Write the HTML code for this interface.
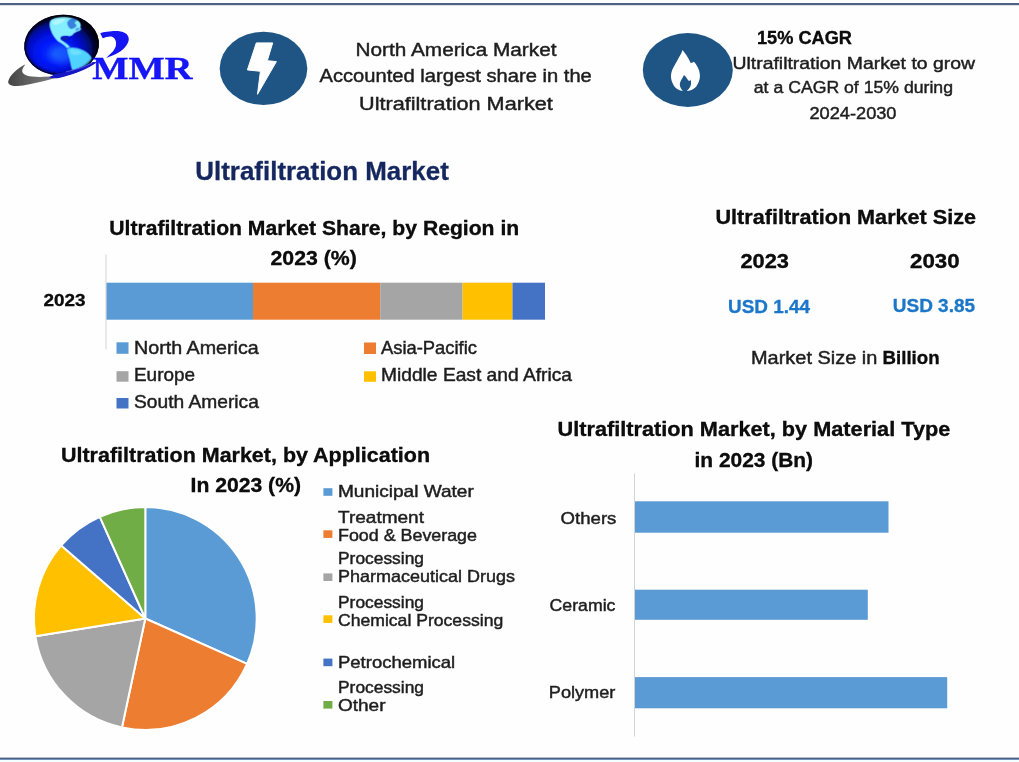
<!DOCTYPE html>
<html><head><meta charset="utf-8"><title>Ultrafiltration Market</title>
<style>html,body{margin:0;padding:0;background:#fefefe;}svg{display:block}text{white-space:pre}</style></head>
<body><svg width="1019" height="762" viewBox="0 0 1019 762">
<rect width="1019" height="762" fill="#fefefe"/>
<rect x="0" y="3" width="1019" height="2.2" fill="#4d6385"/>
<rect x="0" y="757.6" width="1019" height="1.4" fill="#4d6080"/>
<rect x="0" y="759" width="1019" height="1" fill="#7594bd"/>
<rect x="0" y="760" width="1019" height="2" fill="#f3ffff"/>
<defs>
<radialGradient id="gl" cx="0.42" cy="0.58" r="0.56" fx="0.38" fy="0.63">
<stop offset="0" stop-color="#0c3cff"/><stop offset="0.35" stop-color="#0418fa"/><stop offset="0.58" stop-color="#0510d8"/><stop offset="0.75" stop-color="#040c9c"/><stop offset="0.9" stop-color="#020540"/><stop offset="1" stop-color="#00000c"/>
</radialGradient>
<linearGradient id="sw" gradientUnits="userSpaceOnUse" x1="8" y1="0" x2="97" y2="0"><stop offset="0" stop-color="#454545"/><stop offset="0.35" stop-color="#6e6e6e"/><stop offset="0.55" stop-color="#76768a"/><stop offset="0.65" stop-color="#3030b0"/><stop offset="1" stop-color="#1212c8"/></linearGradient>
<filter id="b1" x="-20%" y="-20%" width="140%" height="140%"><feGaussianBlur stdDeviation="7"/></filter>
<filter id="b3" x="-50%" y="-50%" width="200%" height="200%"><feGaussianBlur stdDeviation="30"/></filter>
<filter id="b4" x="-20%" y="-20%" width="140%" height="140%"><feGaussianBlur stdDeviation="1.1"/></filter>
<filter id="tb" x="-5%" y="-30%" width="110%" height="160%"><feGaussianBlur stdDeviation="0.32"/></filter>
<filter id="b2" x="-20%" y="-20%" width="140%" height="140%"><feGaussianBlur stdDeviation="0.55"/></filter>
<clipPath id="gc"><ellipse cx="61.6" cy="45" rx="37.5" ry="30.2" transform="rotate(-6 61.6 45)"/></clipPath>
</defs>
<path d="M25.5,64.2 C18,67.5 10,75 8.3,81 C7.5,85 12,86.6 20,85.8 C28,85 40,82.2 57,77.5 C70,73.8 84,69.6 96.5,62.5 C86,67 72,72.5 59,75.2 C50,76.8 40,77.3 32,76.6 C25,76 21.5,73 22.3,70 C22.8,68 24,66 25.5,64.2 Z" fill="url(#sw)" filter="url(#b2)"/>
<g filter="url(#b2)"><ellipse cx="61.6" cy="45" rx="37.5" ry="30.2" transform="rotate(-6 61.6 45)" fill="url(#gl)"/>
<g clip-path="url(#gc)"><g transform="translate(15 8) scale(0.10497)"><ellipse cx="450" cy="440" rx="110" ry="90" fill="#2a90ff" opacity="0.45" filter="url(#b3)"/><g filter="url(#b1)"><path d="M335,125 C350,100 400,88 450,84 C500,80 560,92 600,118 C625,135 632,160 622,185 C640,195 625,215 600,222 C580,232 560,240 548,258 C538,272 528,262 520,270 C505,262 470,262 445,272 C432,285 440,305 462,318 C480,330 505,345 525,372 L495,382 C470,352 440,335 410,318 C380,292 352,250 338,205 C328,170 325,145 335,125 Z" fill="#84edff"/><path d="M350,130 C380,105 440,95 480,100 C470,130 440,150 400,160 C375,165 355,155 350,130 Z" fill="#b8f8ff" opacity="0.8"/><path d="M498,135 C510,112 535,98 560,92 C575,96 590,104 600,114 C585,120 572,130 566,146 C580,150 590,165 580,180 C562,186 548,202 530,198 C512,188 495,158 498,135 Z" fill="#1a58d0" opacity="0.72"/><path d="M575,200 C590,190 610,185 622,190 C612,205 595,215 580,218 Z" fill="#2a70e0" opacity="0.6"/><ellipse cx="474" cy="290" rx="40" ry="19" fill="#0a1cb0"/><path d="M497,385 C530,368 590,375 640,398 C685,418 722,448 732,480 C725,515 690,550 645,578 C612,596 570,602 545,590 C532,560 528,520 518,482 C508,448 494,415 497,385 Z" fill="#4fd2ff"/><path d="M520,400 C560,388 610,400 640,425 C620,450 570,455 535,440 Z" fill="#7ae6ff" opacity="0.7"/></g></g><ellipse cx="61.6" cy="45" rx="37.5" ry="30.2" transform="rotate(-6 61.6 45)" fill="none" stroke="#00000f" stroke-width="3.2" filter="url(#b4)"/></g></g>
<path d="M56,73.6 C66,72.4 80,68.4 92.7,62 L96.8,62.2 C89,68.2 75,74.2 59,77.9 C56,78.4 52,78.2 49,77.6 Z" fill="#1414c4" filter="url(#b2)"/>
<path d="M66,71.8 C76,69.8 85,66.6 92.5,62.8" stroke="#8f9aff" stroke-width="0.7" fill="none" opacity="0.7" filter="url(#b2)"/>
<path d="M100.3,33.2 C104,32 112,30.8 119.2,31.2 C123,31.5 126.5,33 128,36 C129.5,39 128.5,42.5 126.8,44.7 C125,48 122,50.5 119,52.3 C115,54.8 110,56.8 106.2,57.9 C109,55.5 111.5,53 112.7,51.8 C114.5,49.5 115.8,47 115.9,45.3 C116.2,43 116,41.5 115.4,40 C114.6,38.3 113,37 111.5,36.5 C108.5,36 105,37.2 102.7,38.3 Z" fill="#1212f2" filter="url(#b2)"/>
<text x="92.2" y="79.0" font-family='"Liberation Serif", serif' font-size="32.4" font-weight="bold" fill="#1212f6" textLength="100.2" lengthAdjust="spacingAndGlyphs" stroke="#1212f6" stroke-width="0.4" filter="url(#b2)">MMR</text>
<ellipse cx="263.5" cy="68.4" rx="43.8" ry="36.6" fill="#1f5585"/>
<path d="M256.3,42.9 L272.7,42.9 L267.3,60.7 L276.4,61.6 L257.5,94.3 L260.4,71.3 L247.4,69.9 Z" fill="#fff" stroke="#fff" stroke-width="1" stroke-linejoin="round"/>
<text x="355.5" y="55.9" font-family='"Liberation Sans", sans-serif' font-size="18.8" font-weight="normal" fill="#1e1e1e" textLength="201.0" lengthAdjust="spacingAndGlyphs" filter="url(#tb)" stroke="#1e1e1e" stroke-width="0.45">North America Market</text>
<text x="319.5" y="82.4" font-family='"Liberation Sans", sans-serif' font-size="18.8" font-weight="normal" fill="#1e1e1e" textLength="272.3" lengthAdjust="spacingAndGlyphs" filter="url(#tb)" stroke="#1e1e1e" stroke-width="0.45">Accounted largest share in the</text>
<text x="359.0" y="109.8" font-family='"Liberation Sans", sans-serif' font-size="18.8" font-weight="normal" fill="#1e1e1e" textLength="193.8" lengthAdjust="spacingAndGlyphs" filter="url(#tb)" stroke="#1e1e1e" stroke-width="0.45">Ultrafiltration Market</text>
<ellipse cx="687.8" cy="70" rx="45" ry="36.9" fill="#1f5585"/>
<path d="M682.5,49.9 C684.2,51.8 685.6,53.8 686.8,55.8 C688.4,58.3 689.7,60.6 690.7,62.9 C691.9,62.8 693.1,62.5 693.9,61.7 C695.6,63.4 696.8,65.4 697.8,67.6 C698.9,69.6 699.6,71.7 699.8,73.9 C700.1,76.4 699.8,78.8 699,81 C698.3,83.4 697.1,85.5 695.5,87.3 C694,88.8 692.1,89.9 689.9,90.5 C688.4,91 686.8,91.2 685.2,91.2 C682.6,91.2 680.2,90.7 678.1,89.6 C675.8,88.3 674.1,86.4 673,84.1 C671.6,81.5 670.9,78.6 671,75.5 C671.2,72.7 672.1,70 673.4,67.6 C674.8,64.7 676.6,61.8 678.1,58.9 C679.7,56 681.5,53.2 682.5,49.9 Z" fill="#fff"/>
<path d="M684,75.1 C685.4,76.4 686.6,77.8 687.6,79.4 C688.1,80 688.7,80.6 689.3,81 C689.8,80.6 690.1,80 690.3,79.4 C690.9,80.6 691.2,81.9 691.1,83.3 C691.1,84.8 690.7,86.1 689.9,87.3 C689.2,88.5 688.3,89.6 687.2,90.4 L687.2,92.5 L682.5,92.5 L682.5,90.4 C681.3,89.3 680.5,88 680.1,86.5 C679.7,85.2 679.7,83.9 680.1,82.6 C680.5,81.1 681.2,79.8 682.1,78.6 C682.8,77.5 683.5,76.4 684,75.1 Z" fill="#1f5585"/>
<text x="757.0" y="43.9" font-family='"Liberation Sans", sans-serif' font-size="17.8" font-weight="bold" fill="#080808" textLength="95.0" lengthAdjust="spacingAndGlyphs" filter="url(#tb)" stroke="#080808" stroke-width="0.3">15% CAGR</text>
<text x="732.5" y="69.4" font-family='"Liberation Sans", sans-serif' font-size="17.2" font-weight="normal" fill="#1e1e1e" textLength="242.5" lengthAdjust="spacingAndGlyphs" filter="url(#tb)" stroke="#1e1e1e" stroke-width="0.45">Ultrafiltration Market to grow</text>
<text x="753.8" y="93.3" font-family='"Liberation Sans", sans-serif' font-size="17.2" font-weight="normal" fill="#1e1e1e" textLength="199.2" lengthAdjust="spacingAndGlyphs" filter="url(#tb)" stroke="#1e1e1e" stroke-width="0.45">at a CAGR of 15% during</text>
<text x="809.5" y="119.4" font-family='"Liberation Sans", sans-serif' font-size="17.2" font-weight="normal" fill="#1e1e1e" textLength="87.0" lengthAdjust="spacingAndGlyphs" filter="url(#tb)" stroke="#1e1e1e" stroke-width="0.45">2024-2030</text>
<text x="195.3" y="179.8" font-family='"Liberation Sans", sans-serif' font-size="25.4" font-weight="bold" fill="#14275f" textLength="253.5" lengthAdjust="spacingAndGlyphs" filter="url(#tb)" stroke="#14275f" stroke-width="0.3">Ultrafiltration Market</text>
<text x="109.3" y="235.4" font-family='"Liberation Sans", sans-serif' font-size="20.2" font-weight="bold" fill="#080808" textLength="409.9" lengthAdjust="spacingAndGlyphs" filter="url(#tb)" stroke="#080808" stroke-width="0.3">Ultrafiltration Market Share, by Region in</text>
<text x="270.5" y="265.3" font-family='"Liberation Sans", sans-serif' font-size="20.2" font-weight="bold" fill="#080808" textLength="86.3" lengthAdjust="spacingAndGlyphs" filter="url(#tb)" stroke="#080808" stroke-width="0.3">2023 (%)</text>
<rect x="105.5" y="254.5" width="1" height="95" fill="#d4d4d4"/>
<rect x="106.5" y="282.7" width="146.5" height="37" fill="#5b9bd5"/>
<rect x="253" y="282.7" width="127.2" height="37" fill="#ed7d31"/>
<rect x="380.2" y="282.7" width="82.4" height="37" fill="#a5a5a5"/>
<rect x="462.6" y="282.7" width="49.9" height="37" fill="#ffc000"/>
<rect x="512.5" y="282.7" width="32.5" height="37" fill="#4472c4"/>
<text x="43.5" y="306.1" font-family='"Liberation Sans", sans-serif' font-size="17.2" font-weight="bold" fill="#080808" textLength="42.1" lengthAdjust="spacingAndGlyphs" filter="url(#tb)" stroke="#080808" stroke-width="0.3">2023</text>
<rect x="116.5" y="342.3" width="12" height="11.5" fill="#5b9bd5"/>
<text x="134.0" y="353.7" font-family='"Liberation Sans", sans-serif' font-size="18.2" font-weight="normal" fill="#1e1e1e" textLength="124.8" lengthAdjust="spacingAndGlyphs" filter="url(#tb)" stroke="#1e1e1e" stroke-width="0.45">North America</text>
<rect x="116.5" y="371.2" width="12" height="10.5" fill="#a5a5a5"/>
<text x="134.0" y="380.8" font-family='"Liberation Sans", sans-serif' font-size="18.2" font-weight="normal" fill="#1e1e1e" textLength="61.0" lengthAdjust="spacingAndGlyphs" filter="url(#tb)" stroke="#1e1e1e" stroke-width="0.45">Europe</text>
<rect x="116.5" y="398" width="12" height="10.5" fill="#4472c4"/>
<text x="134.0" y="408.0" font-family='"Liberation Sans", sans-serif' font-size="18.2" font-weight="normal" fill="#1e1e1e" textLength="124.8" lengthAdjust="spacingAndGlyphs" filter="url(#tb)" stroke="#1e1e1e" stroke-width="0.45">South America</text>
<rect x="364" y="342.5" width="12" height="11.5" fill="#ed7d31"/>
<text x="381.0" y="353.9" font-family='"Liberation Sans", sans-serif' font-size="18.2" font-weight="normal" fill="#1e1e1e" textLength="96.0" lengthAdjust="spacingAndGlyphs" filter="url(#tb)" stroke="#1e1e1e" stroke-width="0.45">Asia-Pacific</text>
<rect x="364" y="371.3" width="12" height="10.5" fill="#ffc000"/>
<text x="381.0" y="381.2" font-family='"Liberation Sans", sans-serif' font-size="18.2" font-weight="normal" fill="#1e1e1e" textLength="191.0" lengthAdjust="spacingAndGlyphs" filter="url(#tb)" stroke="#1e1e1e" stroke-width="0.45">Middle East and Africa</text>
<text x="715.5" y="223.5" font-family='"Liberation Sans", sans-serif' font-size="20.2" font-weight="bold" fill="#080808" textLength="260.5" lengthAdjust="spacingAndGlyphs" filter="url(#tb)" stroke="#080808" stroke-width="0.3">Ultrafiltration Market Size</text>
<text x="740.5" y="268.3" font-family='"Liberation Sans", sans-serif' font-size="20.2" font-weight="bold" fill="#080808" textLength="48.5" lengthAdjust="spacingAndGlyphs" filter="url(#tb)" stroke="#080808" stroke-width="0.3">2023</text>
<text x="910.0" y="268.3" font-family='"Liberation Sans", sans-serif' font-size="20.2" font-weight="bold" fill="#080808" textLength="49.6" lengthAdjust="spacingAndGlyphs" filter="url(#tb)" stroke="#080808" stroke-width="0.3">2030</text>
<text x="728.0" y="313.3" font-family='"Liberation Sans", sans-serif' font-size="17.8" font-weight="bold" fill="#1b77c9" textLength="82.0" lengthAdjust="spacingAndGlyphs" filter="url(#tb)" stroke="#1b77c9" stroke-width="0.3">USD 1.44</text>
<text x="892.8" y="311.9" font-family='"Liberation Sans", sans-serif' font-size="17.8" font-weight="bold" fill="#1b77c9" textLength="82.2" lengthAdjust="spacingAndGlyphs" filter="url(#tb)" stroke="#1b77c9" stroke-width="0.3">USD 3.85</text>
<text x="751.0" y="363.6" font-family='"Liberation Sans", sans-serif' font-size="18.2" font-weight="normal" fill="#1e1e1e" textLength="126.3" lengthAdjust="spacingAndGlyphs" filter="url(#tb)" stroke="#1e1e1e" stroke-width="0.45">Market Size in</text>
<text x="882.6" y="363.6" font-family='"Liberation Sans", sans-serif' font-size="18.2" font-weight="bold" fill="#080808" textLength="57.0" lengthAdjust="spacingAndGlyphs" filter="url(#tb)" stroke="#080808" stroke-width="0.3">Billion</text>
<text x="61.0" y="461.5" font-family='"Liberation Sans", sans-serif' font-size="20.2" font-weight="bold" fill="#080808" textLength="369.0" lengthAdjust="spacingAndGlyphs" filter="url(#tb)" stroke="#080808" stroke-width="0.3">Ultrafiltration Market, by Application</text>
<text x="190.5" y="492.1" font-family='"Liberation Sans", sans-serif' font-size="20.2" font-weight="bold" fill="#080808" textLength="110.5" lengthAdjust="spacingAndGlyphs" filter="url(#tb)" stroke="#080808" stroke-width="0.3">In 2023 (%)</text>
<path d="M145.3,618.5 L145.30,507.10 A111.4,111.4 0 0 1 247.07,663.81 Z" fill="#5b9bd5" stroke="#fff" stroke-width="2" stroke-linejoin="round"/>
<path d="M145.3,618.5 L247.07,663.81 A111.4,111.4 0 0 1 121.95,727.43 Z" fill="#ed7d31" stroke="#fff" stroke-width="2" stroke-linejoin="round"/>
<path d="M145.3,618.5 L121.95,727.43 A111.4,111.4 0 0 1 35.33,636.31 Z" fill="#a5a5a5" stroke="#fff" stroke-width="2" stroke-linejoin="round"/>
<path d="M145.3,618.5 L35.33,636.31 A111.4,111.4 0 0 1 61.23,545.42 Z" fill="#ffc000" stroke="#fff" stroke-width="2" stroke-linejoin="round"/>
<path d="M145.3,618.5 L61.23,545.42 A111.4,111.4 0 0 1 99.81,516.81 Z" fill="#4472c4" stroke="#fff" stroke-width="2" stroke-linejoin="round"/>
<path d="M145.3,618.5 L99.81,516.81 A111.4,111.4 0 0 1 145.30,507.10 Z" fill="#70ad47" stroke="#fff" stroke-width="2" stroke-linejoin="round"/>
<text x="338.0" y="496.9" font-family='"Liberation Sans", sans-serif' font-size="16.6" font-weight="normal" fill="#1e1e1e" textLength="135.8" lengthAdjust="spacingAndGlyphs" filter="url(#tb)" stroke="#1e1e1e" stroke-width="0.45">Municipal Water</text>
<rect x="323.4" y="488.2" width="9" height="7.6" fill="#5b9bd5"/>
<text x="338.0" y="522.7" font-family='"Liberation Sans", sans-serif' font-size="16.6" font-weight="normal" fill="#1e1e1e" textLength="86.0" lengthAdjust="spacingAndGlyphs" filter="url(#tb)" stroke="#1e1e1e" stroke-width="0.45">Treatment</text>
<text x="338.0" y="540.7" font-family='"Liberation Sans", sans-serif' font-size="16.6" font-weight="normal" fill="#1e1e1e" textLength="139.0" lengthAdjust="spacingAndGlyphs" filter="url(#tb)" stroke="#1e1e1e" stroke-width="0.45">Food &amp; Beverage</text>
<rect x="323.4" y="530.3" width="9" height="7.6" fill="#ed7d31"/>
<text x="338.0" y="564.0" font-family='"Liberation Sans", sans-serif' font-size="16.6" font-weight="normal" fill="#1e1e1e" textLength="86.0" lengthAdjust="spacingAndGlyphs" filter="url(#tb)" stroke="#1e1e1e" stroke-width="0.45">Processing</text>
<text x="338.0" y="581.8" font-family='"Liberation Sans", sans-serif' font-size="16.6" font-weight="normal" fill="#1e1e1e" textLength="177.0" lengthAdjust="spacingAndGlyphs" filter="url(#tb)" stroke="#1e1e1e" stroke-width="0.45">Pharmaceutical Drugs</text>
<rect x="323.4" y="573.4" width="9" height="7.6" fill="#a5a5a5"/>
<text x="338.0" y="607.8" font-family='"Liberation Sans", sans-serif' font-size="16.6" font-weight="normal" fill="#1e1e1e" textLength="86.0" lengthAdjust="spacingAndGlyphs" filter="url(#tb)" stroke="#1e1e1e" stroke-width="0.45">Processing</text>
<text x="338.0" y="625.7" font-family='"Liberation Sans", sans-serif' font-size="16.6" font-weight="normal" fill="#1e1e1e" textLength="165.2" lengthAdjust="spacingAndGlyphs" filter="url(#tb)" stroke="#1e1e1e" stroke-width="0.45">Chemical Processing</text>
<rect x="323.4" y="615.3" width="9" height="7.6" fill="#ffc000"/>
<text x="338.0" y="667.5" font-family='"Liberation Sans", sans-serif' font-size="16.6" font-weight="normal" fill="#1e1e1e" textLength="117.2" lengthAdjust="spacingAndGlyphs" filter="url(#tb)" stroke="#1e1e1e" stroke-width="0.45">Petrochemical</text>
<rect x="323.4" y="658.6" width="9" height="7.6" fill="#4472c4"/>
<text x="338.0" y="693.3" font-family='"Liberation Sans", sans-serif' font-size="16.6" font-weight="normal" fill="#1e1e1e" textLength="86.0" lengthAdjust="spacingAndGlyphs" filter="url(#tb)" stroke="#1e1e1e" stroke-width="0.45">Processing</text>
<text x="338.0" y="710.7" font-family='"Liberation Sans", sans-serif' font-size="16.6" font-weight="normal" fill="#1e1e1e" textLength="47.5" lengthAdjust="spacingAndGlyphs" filter="url(#tb)" stroke="#1e1e1e" stroke-width="0.45">Other</text>
<rect x="323.4" y="701" width="9" height="7.6" fill="#70ad47"/>
<text x="557.5" y="436.1" font-family='"Liberation Sans", sans-serif' font-size="20.2" font-weight="bold" fill="#080808" textLength="392.8" lengthAdjust="spacingAndGlyphs" filter="url(#tb)" stroke="#080808" stroke-width="0.3">Ultrafiltration Market, by Material Type</text>
<text x="694.5" y="466.5" font-family='"Liberation Sans", sans-serif' font-size="20.2" font-weight="bold" fill="#080808" textLength="118.5" lengthAdjust="spacingAndGlyphs" filter="url(#tb)" stroke="#080808" stroke-width="0.3">in 2023 (Bn)</text>
<rect x="634" y="473.3" width="1" height="263.2" fill="#d4d4d4"/>
<rect x="635" y="501.3" width="253.5" height="31.4" fill="#5b9bd5"/>
<rect x="635" y="589.7" width="232.8" height="30.1" fill="#5b9bd5"/>
<rect x="635" y="677.1" width="312.2" height="31.2" fill="#5b9bd5"/>
<text x="560.6" y="524.2" font-family='"Liberation Sans", sans-serif' font-size="17.2" font-weight="normal" fill="#1e1e1e" textLength="55.8" lengthAdjust="spacingAndGlyphs" filter="url(#tb)" stroke="#1e1e1e" stroke-width="0.45">Others</text>
<text x="549.6" y="610.9" font-family='"Liberation Sans", sans-serif' font-size="17.2" font-weight="normal" fill="#1e1e1e" textLength="65.8" lengthAdjust="spacingAndGlyphs" filter="url(#tb)" stroke="#1e1e1e" stroke-width="0.45">Ceramic</text>
<text x="548.8" y="698.0" font-family='"Liberation Sans", sans-serif' font-size="17.2" font-weight="normal" fill="#1e1e1e" textLength="66.6" lengthAdjust="spacingAndGlyphs" filter="url(#tb)" stroke="#1e1e1e" stroke-width="0.45">Polymer</text>
</svg></body></html>
